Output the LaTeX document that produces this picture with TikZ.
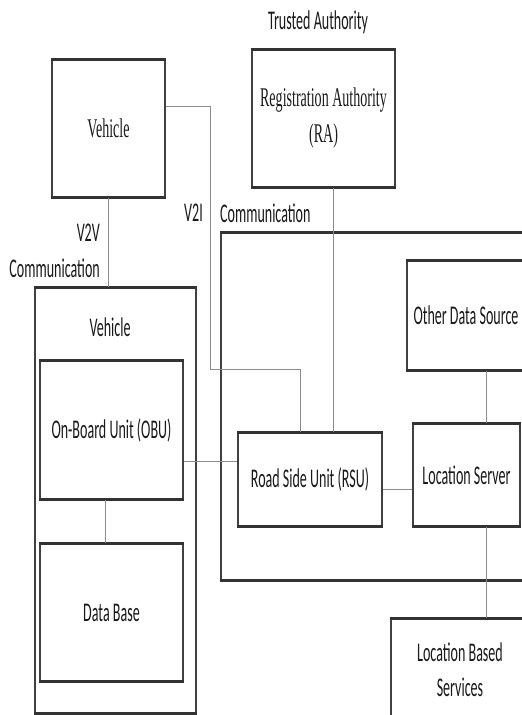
\documentclass[tikz,border=0pt]{standalone}
\usepackage{fontspec}
\newfontfamily\condsans[FakeStretch=0.52]{Carlito}
\newfontfamily\condserif[FakeStretch=0.52]{Liberation Serif}

\tikzset{
    box/.style={draw=black!75, line width=1.3pt, inner sep=0pt, align=center,
        text=black!90, font=\condsans\fontsize{27}{35}\selectfont},
    serifbox/.style={box, font=\condserif\fontsize{27}{36}\selectfont},
    rim/.style={draw=black!80, line width=3pt},
    link/.style={draw=black!45, line width=1pt},
    lbl/.style={inner sep=0pt, text=black!90, font=\condsans\fontsize{27}{35}\selectfont},
}

\begin{document}
\begin{tikzpicture}[x=1pt, y=-1pt]
    \useasboundingbox (0,0) rectangle (522,715);
    \clip (0,0) rectangle (522,715);

    % 上方：车辆与可信机构
    \node[serifbox, minimum width=113, minimum height=137] (veh) at (108.5,128.5) {Vehicle};
    \node[serifbox, minimum width=143, minimum height=137] (ra) at (323.5,118.5) {Registration Authority\\(RA)};
    \node[lbl] (trust) at (318,22) {Trusted Authority};

    % 左下：车辆内部
    \node[box, minimum width=161, minimum height=425] (vbox) at (115.5,500.5) {};
    \node[lbl] (vlab) at (110,327) {Vehicle};
    \node[box, minimum width=143, minimum height=138] (obu) at (111.5,430) {On-Board Unit (OBU)};
    \node[box, minimum width=143, minimum height=137] (db) at (111.5,612.5) {Data Base};

    % 右侧：通信区域
    \node[box, minimum width=319, minimum height=347] (comm) at (380.5,406.5) {};
    \node[box, minimum width=144, minimum height=93] (rsu) at (310,479.5) {Road Side Unit (RSU)};
    \node[box, minimum width=107, minimum height=102] (ls) at (466.5,475) {Location Server};
    \node[box, minimum width=118, minimum height=109] (ods) at (466,315.5) {Other Data Source};
    \node[box, minimum width=138, minimum height=102] (lbs) at (460,670) {Location Based\\Services};

    % 标注
    \node[lbl, anchor=east] (v2i) at (203,213) {V2I};
    \node[lbl, anchor=west] (commlab) at (220,213) {Communication};
    \node[lbl, anchor=east] (v2v) at (100,233) {V2V};
    \node[lbl, anchor=east] (v2vlab) at (100,268) {Communication};

    % 上下边加粗
    \foreach \n in {veh,ra,vbox,obu,db,comm,rsu,ls,ods,lbs}
        \draw[rim] (\n.north west) -- (\n.north east) (\n.south west) -- (\n.south east);

    % 连接线
    \coordinate (v2iturn) at (210,106);
    \coordinate (v2idrop) at (210,369);
    \coordinate (rsutap) at (300,369);
    \coordinate (ratap) at (333,0);
    \coordinate (dbtap) at (105,0);
    \coordinate (obuy) at (0,461);
    \coordinate (lsy) at (0,489);
    \coordinate (lstap) at (486,0);

    \draw[link] (veh.east |- v2iturn) -- (v2iturn) -- (v2idrop) -- (rsutap) -- (rsu.north -| rsutap);
    \draw[link] (ra.south -| ratap) -- (rsu.north -| ratap);
    \draw[link] (veh.south) -- (veh.south |- vbox.north);
    \draw[link] (obu.south -| dbtap) -- (db.north -| dbtap);
    \draw[link] (obu.east |- obuy) -- (rsu.west |- obuy);
    \draw[link] (rsu.east |- lsy) -- (ls.west |- lsy);
    \draw[link] (ods.south -| lstap) -- (ls.north -| lstap);
    \draw[link] (ls.south -| lstap) -- (lbs.north -| lstap);
\end{tikzpicture}
\end{document}
